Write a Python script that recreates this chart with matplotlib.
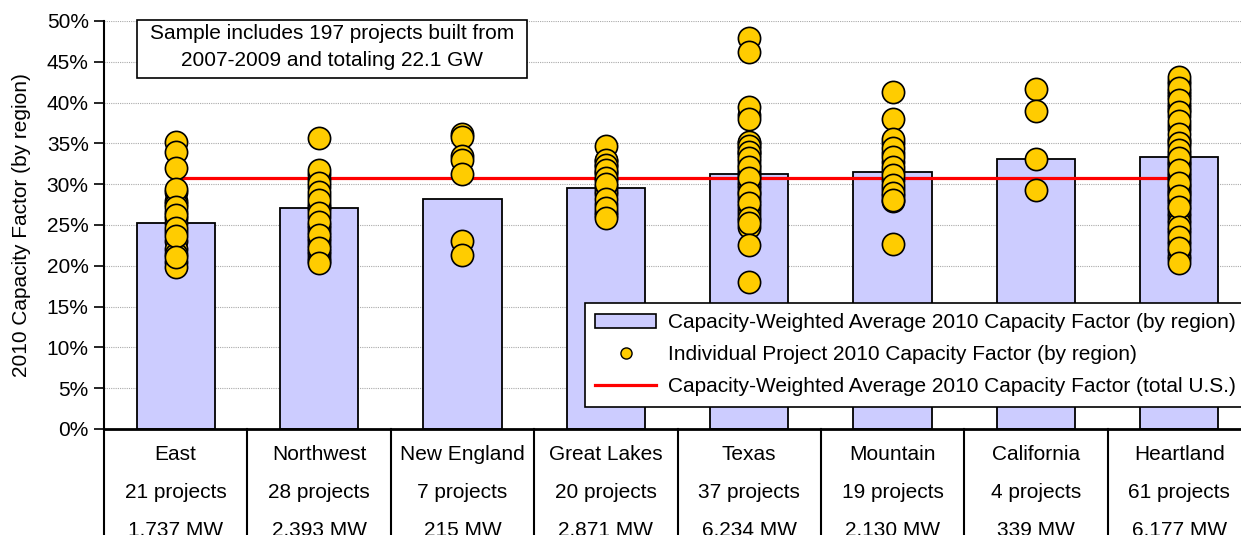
import matplotlib.pyplot as plt
from matplotlib.patches import Rectangle
from matplotlib.lines import Line2D
from matplotlib.ticker import PercentFormatter
import matplotlib.transforms as mtransforms

plt.rcParams['font.family'] = ['Liberation Sans', 'DejaVu Sans']
plt.rcParams['font.size'] = 15

# regional data
regions = ["East", "Northwest", "New England", "Great Lakes", "Texas",
           "Mountain", "California", "Heartland"]
project_counts = ["21 projects", "28 projects", "7 projects", "20 projects",
                  "37 projects", "19 projects", "4 projects", "61 projects"]
capacity_mw = ["1,737 MW", "2,393 MW", "215 MW", "2,871 MW",
               "6,234 MW", "2,130 MW", "339 MW", "6,177 MW"]

# capacity-weighted average capacity factor by region (%)
weighted_avg = [25.2, 27.1, 28.2, 29.5, 31.3, 31.5, 33.1, 33.3]
us_weighted_avg = 30.8

# individual project capacity factors (%), in plotting order
east = [29.0, 28.0, 27.6, 26.6, 25.8, 25.2, 24.2, 23.0, 22.0, 21.5, 20.5,
        35.2, 33.9, 32.0, 29.4, 27.2, 26.2, 24.6, 23.6, 19.9, 21.1]
northwest = [31.2, 30.6, 29.6, 28.6, 27.6, 27.2, 26.9, 26.0, 25.0, 24.6,
             24.2, 23.4, 23.0, 22.6, 21.8, 21.4, 21.0, 20.6,
             35.7, 31.7, 30.1, 29.1, 28.1, 26.5, 25.4, 23.8, 22.2, 20.3]
new_england = [36.2, 35.8, 33.4, 33.0, 31.3, 23.1, 21.3]
great_lakes = [32.8, 32.2, 31.5, 31.2, 30.5, 29.6, 29.2, 28.8, 27.6, 26.6,
               26.2,
               34.7, 33.0, 32.4, 31.8, 30.8, 30.0, 28.2, 27.1, 25.8]
texas = [38.5, 35.0, 34.4, 34.0, 33.6, 32.8, 32.4, 31.8, 31.4, 31.0, 30.3,
         29.9, 29.5, 29.1, 28.5, 28.1, 27.3, 26.8, 26.4, 25.6, 24.8,
         47.9, 46.2, 39.4, 38.0, 35.2, 34.7, 33.9, 33.2, 32.1, 30.7, 28.9,
         27.7, 25.9, 25.2, 22.5, 18.0]
mountain = [35.0, 33.8, 32.7, 31.6, 30.5, 29.4, 28.5, 27.9,
            41.3, 38.0, 35.6, 34.4, 33.3, 32.1, 31.1, 29.9, 28.9, 28.1, 22.7]
california = [41.7, 39.0, 33.1, 29.3]
heartland = [42.6, 42.3, 41.4, 41.0, 40.7, 39.8, 39.4, 39.1, 38.3, 37.2,
             36.8, 35.6, 35.3, 34.7, 33.8, 33.5, 32.9, 32.6, 32.3, 32.0,
             31.4, 31.1, 30.8, 30.5, 29.9, 29.6, 29.3, 29.0, 28.8, 28.2,
             27.9, 27.6, 26.9, 26.5, 26.1, 25.6, 25.2, 24.4, 24.0, 23.1,
             22.7, 21.8, 21.2, 20.8,
             43.1, 41.8, 40.3, 38.8, 37.7, 36.2, 35.0, 34.2, 33.2, 31.7,
             30.2, 28.5, 27.2, 24.8, 23.5, 22.2, 20.4]
projects = [east, northwest, new_england, great_lakes, texas,
            mountain, california, heartland]

bar_color = "#CCCCFF"
dot_color = "#FFCC00"

fig = plt.figure(figsize=(12.41, 5.35), dpi=100)
ax = fig.add_axes([104 / 1241, 106 / 535, 1147 / 1241, 408 / 535])

x = list(range(len(regions)))
ax.bar(x, weighted_avg, width=0.545, color=bar_color, edgecolor="black",
       linewidth=1.3, zorder=2)
ax.plot([0, len(regions) - 1], [us_weighted_avg] * 2, color="red",
        linewidth=2.3, zorder=3)
for i, vals in enumerate(projects):
    ax.plot([i] * len(vals), vals, linestyle="none", marker="o",
            markersize=16, markerfacecolor=dot_color,
            markeredgecolor="black", markeredgewidth=1.2, zorder=4)

ax.set_xlim(-0.5, len(regions) - 0.5)
ax.set_ylim(0, 50)
ax.set_yticks(range(0, 51, 5))
ax.yaxis.set_major_formatter(PercentFormatter(decimals=0))
ax.set_xticks([])
ax.tick_params(axis="y", length=7, width=1.2, direction="out", pad=4,
               labelsize=15)
ax.yaxis.grid(True, color="#aaaaaa", linestyle=(0, (1, 1)), linewidth=0.8,
              zorder=0)
ax.set_axisbelow(True)
for side in ["top", "right"]:
    ax.spines[side].set_visible(False)
ax.spines["left"].set_linewidth(1.5)
ax.spines["bottom"].set_linewidth(2.0)

ax.set_ylabel("2010 Capacity Factor (by region)", fontsize=15)
ax.yaxis.set_label_coords(-0.064, 0.5)

# category table under the axis
trans = mtransforms.blended_transform_factory(ax.transData, ax.transAxes)
for k in range(len(regions) + 1):
    ax.add_line(Line2D([k - 0.5, k - 0.5], [0, -0.3], transform=trans,
                       color="black", linewidth=1.5, clip_on=False))
row_y = [-26 / 408, -64 / 408, -101 / 408]
for i in x:
    for txt, yy in zip([regions[i], project_counts[i], capacity_mw[i]], row_y):
        ax.text(i, yy, txt, transform=trans, ha="center", va="center",
                fontsize=15, clip_on=False)

# sample note
ax.add_patch(Rectangle((33 / 1147, 351 / 408), 390 / 1147, 58 / 408,
                       transform=ax.transAxes, facecolor="white",
                       edgecolor="black", linewidth=1.2, clip_on=False,
                       zorder=5))
ax.text(228 / 1147, 382 / 408,
        "Sample includes 197 projects built from\n2007-2009 and totaling 22.1 GW",
        transform=ax.transAxes, ha="center", va="center", fontsize=15,
        linespacing=1.5, zorder=6)

handles = [
    Rectangle((0, 0), 1, 1, facecolor=bar_color, edgecolor="black",
              linewidth=1.2),
    Line2D([], [], linestyle="none", marker="o", markersize=8,
           markerfacecolor=dot_color, markeredgecolor="black",
           markeredgewidth=1.0),
    Line2D([], [], color="red", linewidth=2.3),
]
labels = [
    "Capacity-Weighted Average 2010 Capacity Factor (by region)",
    "Individual Project 2010 Capacity Factor (by region)",
    "Capacity-Weighted Average 2010 Capacity Factor (total U.S.)",
]
leg = ax.legend(handles, labels, loc="upper left",
                bbox_to_anchor=(481 / 1147, 126 / 408), borderaxespad=0,
                fontsize=15, frameon=True, fancybox=False, framealpha=1,
                edgecolor="black", handlelength=2.9, handleheight=0.6,
                labelspacing=0.62, borderpad=0.5, handletextpad=0.6)
leg.get_frame().set_linewidth(1.2)
leg.set_zorder(6)

fig.savefig("out.png", dpi=100)
